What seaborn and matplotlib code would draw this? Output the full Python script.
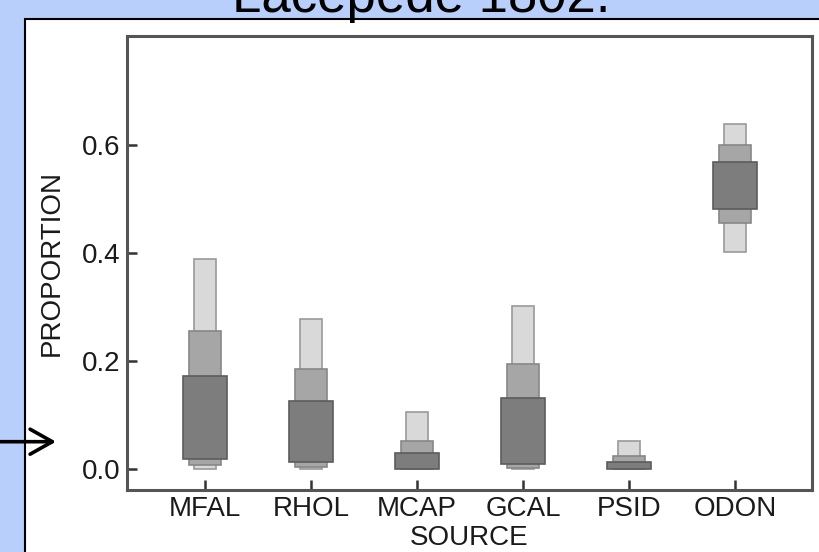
import matplotlib
matplotlib.use("Agg")
import matplotlib.pyplot as plt
import seaborn as sns
from matplotlib.patches import Rectangle, FancyArrowPatch

# credible intervals per source (95 / 75 / 50 %)
sources = ["MFAL", "RHOL", "MCAP", "GCAL", "PSID", "ODON"]
lo95 = [0.0, 0.0, 0.0, 0.0, 0.0, 0.401]
hi95 = [0.389, 0.278, 0.106, 0.302, 0.051, 0.639]
lo75 = [0.007, 0.004, 0.0, 0.002, 0.0, 0.455]
hi75 = [0.256, 0.185, 0.052, 0.194, 0.024, 0.600]
lo50 = [0.018, 0.013, 0.0, 0.009, 0.0, 0.481]
hi50 = [0.172, 0.125, 0.030, 0.132, 0.0135, 0.569]

sns.set_style("ticks")
plt.rcParams['font.family'] = ['Liberation Sans', 'DejaVu Sans']

fig = plt.figure(figsize=(8.19, 5.52), dpi=100)
fig.patch.set_facecolor("#b7cffa")

# white slide panel behind the plot
panel = Rectangle((25 / 819, -0.05), 1.0, 1 - 19 / 552 + 0.05,
                  transform=fig.transFigure, facecolor="white",
                  edgecolor="black", linewidth=1.5, zorder=-5)
fig.patches.append(panel)

fig.text(421 / 819, 1 - 12 / 552, "Lacepede 1802.", fontsize=38,
         ha="center", va="baseline", color="black")

ax = fig.add_axes([127 / 819, 1 - 490 / 552, (812 - 127) / 819, (490 - 36) / 552])
ax.set_facecolor("white")

levels = [
    (lo95, hi95, 0.2, "#d9d9d9", "#9a9a9a"),
    (lo75, hi75, 0.31, "#a6a6a6", "#878787"),
    (lo50, hi50, 0.41, "#7d7d7d", "#5c5c5c"),
]
for lo, hi, w, fc, ec in levels:
    heights = [h - l for l, h in zip(lo, hi)]
    sns.barplot(x=sources, y=heights, bottom=lo, width=w, color=fc,
                saturation=1, edgecolor=ec, linewidth=1.2, ax=ax)

ax.set_xlim(-0.736, 5.726)
ax.set_ylim(-0.039, 0.802)
ax.set_yticks([0.0, 0.2, 0.4, 0.6])
ax.set_yticklabels(["0.0", "0.2", "0.4", "0.6"])

for s in ax.spines.values():
    s.set_visible(True)
    s.set_color("#555555")
    s.set_linewidth(2.2)

ax.tick_params(axis="both", direction="in", length=7, width=1.8,
               color="#333333", labelsize=20, labelcolor="#1a1a1a")
ax.tick_params(axis="y", pad=5)
ax.tick_params(axis="x", pad=4)

ax.set_xlabel("SOURCE", fontsize=20, color="#1a1a1a")
ax.set_ylabel("PROPORTION", fontsize=20, color="#1a1a1a")
ax.xaxis.set_label_coords(0.5, -0.077)
ax.yaxis.set_label_coords(-0.0905, 0.5)

arrow = FancyArrowPatch((0.0, 1 - 441.7 / 552), (56 / 819, 1 - 441.7 / 552),
                        transform=fig.transFigure,
                        arrowstyle="->,head_length=0.8,head_width=0.45",
                        mutation_scale=20, linewidth=2.6, color="black",
                        shrinkA=0, shrinkB=0, zorder=5)
fig.patches.append(arrow)

fig.savefig("out.png", dpi=100, facecolor=fig.get_facecolor())
